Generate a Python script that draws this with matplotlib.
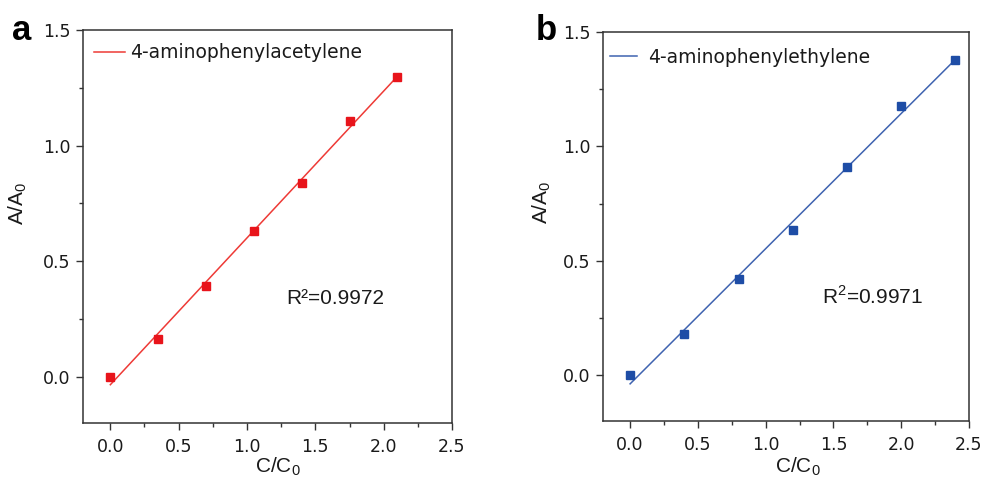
import numpy as np
import matplotlib
matplotlib.use("Agg")
import matplotlib.pyplot as plt
from matplotlib.ticker import MultipleLocator, FuncFormatter

plt.rcParams['font.family'] = ['Liberation Sans', 'DejaVu Sans']
plt.rcParams['mathtext.fontset'] = 'custom'

# Calibration data: relative absorbance vs relative concentration
conc_a = [0.0, 0.35, 0.70, 1.05, 1.40, 1.75, 2.10]
abs_a = [0.0, 0.163, 0.391, 0.630, 0.840, 1.108, 1.295]
conc_b = [0.0, 0.40, 0.80, 1.20, 1.60, 2.00, 2.40]
abs_b = [0.0, 0.179, 0.421, 0.634, 0.911, 1.177, 1.377]

labels = ["4-aminophenylacetylene", "4-aminophenylethylene"]
r2_text = ["R²=0.9972", "R$^\\mathregular{2}$=0.9971"]
panel_tags = ["a", "b"]
marker_colors = ["#E8141B", "#1E4DA6"]
line_colors = ["#EE3A36", "#3F63B0"]

W, H = 987, 479
fig = plt.figure(figsize=(W / 100, H / 100), dpi=100)

# axes boxes in pixels: left, top, right, bottom
boxes = [(83, 30, 452, 423), (603, 32, 969, 421)]
r2_pos = [(1.285, 0.338), (1.416, 0.345)]
legend_anchor = [(0.030, 0.966), (0.019, 0.960)]
legend_handle = [(1.65, 0.28), (1.45, 0.6)]
ylabel_xy = [(-0.146, 0.558), (-0.136, 0.563)]
xlabel_xy = [(0.528, -0.082), (0.533, -0.088)]
tag_px = [(22, 31), (546, 31)]

tick_font = dict(family=['DejaVu Sans'], size=12.5)

for i, (x, y) in enumerate([(conc_a, abs_a), (conc_b, abs_b)]):
    l, t, r, b = boxes[i]
    ax = fig.add_axes([l / W, 1 - b / H, (r - l) / W, (b - t) / H])
    x = np.asarray(x)
    y = np.asarray(y)
    k, c = np.polyfit(x, y, 1)
    xf = np.array([x.min(), x.max()])
    ax.plot(xf, k * xf + c, color=line_colors[i], lw=1.1, label=labels[i])
    ax.plot(x, y, ls='none', marker='s', ms=5.6, color=marker_colors[i],
            mec=marker_colors[i], zorder=3)

    ax.set_xlim(-0.2, 2.5)
    ax.set_ylim(-0.2, 1.5)
    ax.xaxis.set_major_locator(MultipleLocator(0.5))
    ax.xaxis.set_minor_locator(MultipleLocator(0.25))
    ax.yaxis.set_major_locator(MultipleLocator(0.5))
    ax.yaxis.set_minor_locator(MultipleLocator(0.25))
    fmt = FuncFormatter(lambda v, p: f"{v:.1f}")
    ax.xaxis.set_major_formatter(fmt)
    ax.yaxis.set_major_formatter(fmt)
    ax.tick_params(which='both', direction='out', top=False, right=False,
                   color='#333333', labelcolor='#1a1a1a')
    ax.tick_params(which='major', length=5, width=1.0)
    ax.tick_params(which='minor', length=3, width=1.0)
    ax.tick_params(axis='x', which='major', pad=6)
    ax.tick_params(axis='y', which='major', pad=4)
    for lab in ax.get_xticklabels() + ax.get_yticklabels():
        lab.set_fontfamily(tick_font['family'])
        lab.set_fontsize(tick_font['size'])
    for s in ax.spines.values():
        s.set_linewidth(1.1)
        s.set_color('#333333')

    ax.set_xlabel("C/C$_\\mathregular{0}$", fontsize=15, color='#1a1a1a')
    ax.xaxis.set_label_coords(*xlabel_xy[i])
    ax.set_ylabel("A/A$_\\mathregular{0}$", fontsize=15, color='#1a1a1a')
    ax.yaxis.set_label_coords(*ylabel_xy[i])

    hl, hp = legend_handle[i]
    ax.legend(loc='upper left', bbox_to_anchor=legend_anchor[i],
              frameon=False, prop={'family': ['DejaVu Sans'], 'size': 13.5},
              handlelength=hl, handletextpad=hp, borderpad=0,
              borderaxespad=0, labelcolor='#1a1a1a')

    ax.text(r2_pos[i][0], r2_pos[i][1], r2_text[i], fontsize=15,
            color='#1a1a1a', va='center', ha='left')

    fig.text(tag_px[i][0] / W, 1 - tag_px[i][1] / H, panel_tags[i],
             fontsize=25, fontweight='bold', ha='center', va='center')

fig.savefig("out.png", dpi=100)
